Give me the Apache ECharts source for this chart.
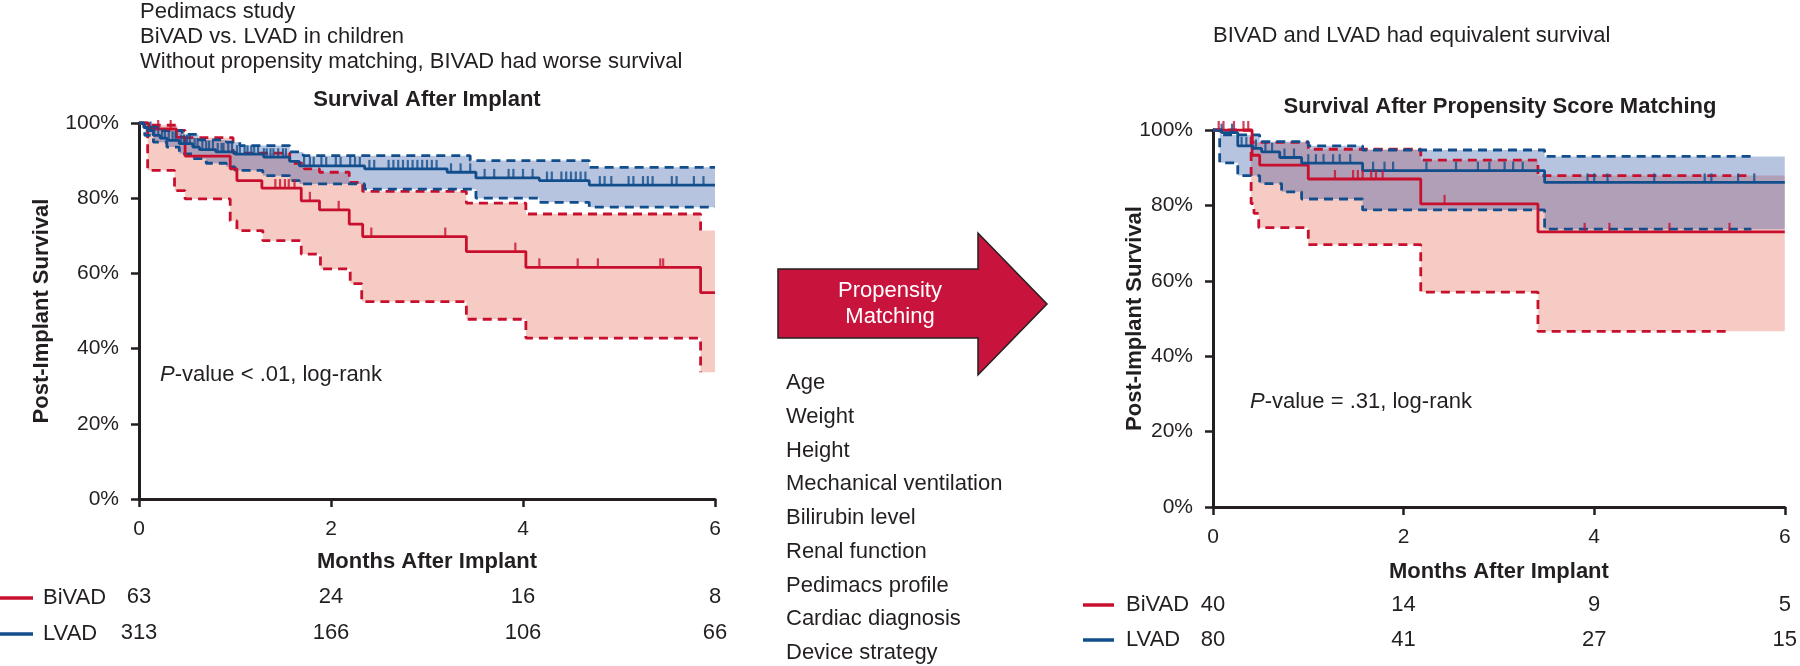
<!DOCTYPE html>
<html>
<head>
<meta charset="utf-8">
<script src="https://cdn.jsdelivr.net/npm/echarts@6/dist/echarts.min.js"></script>
<style>
html,body{margin:0;padding:0;background:#fff;}
#chart{width:1800px;height:666px;}
</style>
</head>
<body>
<div id="chart"></div>
<script>
// ---------- DATA ----------
var xTicks = [0, 2, 4, 6];
// Left panel: all patients (months, % survival)
var bivadKM = [[0,100],[0.1,98.4],[0.39,96.2],[0.48,91.2],[0.95,87.8],[1.02,84.7],[1.28,82.7],[1.69,79.3],[1.88,76.9],[2.19,73.1],[2.33,69.8],[3.41,65.8],[4.03,61.6],[5.85,54.9],[6,54.9]];
var bivadUpper = [[0,100],[0.1,99.4],[0.4,98.0],[0.48,96.1],[0.98,92.0],[1.57,89.3],[1.72,87.8],[1.88,86.9],[2.19,84.2],[2.33,81.8],[3.41,78.7],[4.03,75.8],[5.85,71.4]];
var bivadLower = [[0,100],[0.09,87.4],[0.37,82.0],[0.48,79.8],[0.95,74.0],[1.02,71.4],[1.29,68.7],[1.69,65.1],[1.89,61.2],[2.2,57.3],[2.32,52.5],[3.41,47.8],[4.03,42.8],[5.85,33.7]];
var lvadKM = [[0,100],[0.05,98.8],[0.09,98.0],[0.15,96.7],[0.22,96.0],[0.29,95.4],[0.42,94.5],[0.56,93.6],[0.63,92.9],[0.8,92.3],[1.0,91.7],[1.3,90.9],[1.57,89.8],[1.67,88.6],[2.35,87.8],[3.21,86.9],[3.51,85.4],[4.17,84.7],[4.69,83.5],[6,83.5]];
var lvadUpper = [[0,100],[0.09,98.9],[0.2,98.0],[0.45,97.0],[0.62,95.5],[0.91,94.9],[1.05,94.0],[1.57,92.3],[1.71,91.3],[3.45,90.0],[4.69,88.2],[6,88.2]];
var lvadLower = [[0,100],[0.06,96.7],[0.15,94.9],[0.29,93.6],[0.42,91.8],[0.56,90.5],[0.7,89.3],[0.91,88.3],[1.0,87.4],[1.29,86.0],[1.57,84.7],[1.67,83.8],[2.35,82.4],[3.51,80.0],[4.17,78.9],[4.69,77.6],[6,77.6]];
var bivadCens = [0.2,0.33,1.42,1.47,1.52,1.56,1.62,1.78,2.08,2.42,3.19,3.92,4.17,4.57,4.78,5.43,5.46];
var lvadCens = [0.12,0.16,0.2,0.24,0.27,0.31,0.35,0.38,0.44,0.47,0.5,0.53,0.58,0.61,0.66,0.7,0.73,0.77,0.82,0.86,0.88,0.93,0.97,1.02,1.05,1.1,1.13,1.17,1.2,1.24,1.3,1.33,1.37,1.4,1.45,1.5,1.53,1.72,1.78,1.82,1.9,1.95,2.05,2.1,2.2,2.25,2.3,2.4,2.45,2.6,2.65,2.7,2.75,2.8,2.85,2.9,2.95,3.0,3.05,3.1,3.25,3.35,3.45,3.6,3.7,3.85,3.9,4.0,4.1,4.25,4.3,4.4,4.45,4.5,4.55,4.6,4.65,4.8,4.85,4.92,5.1,5.15,5.25,5.3,5.35,5.55,5.6,5.78,5.88];
var bivadRisk = [63, 24, 16, 8];
var lvadRisk = [313, 166, 106, 66];

// Right panel: propensity matched
var bivadKM2 = [[0,100],[0.41,93.3],[0.49,90.7],[1.0,87.0],[2.18,80.4],[3.41,73.0],[6,73.0]];
var bivadUpper2 = [[0,100],[0.41,96.7],[1.0,94.9],[2.18,92.0],[3.41,87.9],[5.65,87.9]];
var bivadLower2 = [[0,100],[0.4,80.5],[0.43,77.9],[0.48,74.1],[1.0,69.6],[2.18,57.0],[3.41,46.6],[5.44,46.6]];
var lvadKM2 = [[0,100],[0.09,99.3],[0.26,95.8],[0.42,95.1],[0.51,94.2],[0.7,92.7],[0.93,91.2],[1.57,89.2],[3.48,86.1],[6,86.1]];
var lvadUpper2 = [[0,100],[0.09,98.7],[0.49,96.9],[1.0,95.8],[1.57,94.7],[3.48,93.0],[5.65,93.0]];
var lvadLower2 = [[0,100],[0.07,91.3],[0.26,87.9],[0.49,85.8],[0.72,83.6],[0.93,81.7],[1.57,78.8],[3.48,73.7],[5.65,73.7]];
var bivadCens2 = [0.06,0.11,0.22,0.32,0.37,1.28,1.47,1.52,1.57,1.66,1.71,1.78,2.43,3.9,4.16,4.79,5.42];
var lvadCens2 = [0.09,0.2,0.3,0.35,0.45,0.55,0.62,0.75,0.85,1.0,1.08,1.16,1.26,1.33,1.44,1.68,1.8,1.89,2.24,2.55,2.78,2.9,3.06,3.15,3.25,3.93,4.0,4.14,4.63,5.16,5.23,5.51,5.68];
var bivadRisk2 = [40, 14, 9, 5];
var lvadRisk2 = [80, 41, 27, 15];

var matchVars = ['Age','Weight','Height','Mechanical ventilation','Bilirubin level','Renal function','Pedimacs profile','Cardiac diagnosis','Device strategy'];

// ---------- STYLE ----------
var RED = '#C8102E', BLUE = '#124E8C', INK = '#231F20';
var PINK_FILL = 'rgba(226,106,86,0.35)', BLUE_FILL = 'rgba(15,58,152,0.30)';
var FONT = 'Liberation Sans, Arial, sans-serif';

function stepAt(arr, t) {
  var v = arr[0][1];
  for (var i = 0; i < arr.length; i++) { if (arr[i][0] <= t) v = arr[i][1]; else break; }
  return v;
}
function band(upper, lower, xMax, fill, gi) {
  return {
    type: 'custom', xAxisIndex: gi, yAxisIndex: gi, silent: true, clip: false, z: 1,
    data: [[0, 100]],
    renderItem: function (params, api) {
      var pts = [], i, nt;
      for (i = 0; i < upper.length; i++) {
        nt = i + 1 < upper.length ? upper[i + 1][0] : xMax;
        pts.push(api.coord([upper[i][0], upper[i][1]]));
        pts.push(api.coord([nt, upper[i][1]]));
      }
      for (i = lower.length - 1; i >= 0; i--) {
        nt = i + 1 < lower.length ? lower[i + 1][0] : xMax;
        pts.push(api.coord([nt, lower[i][1]]));
        pts.push(api.coord([lower[i][0], lower[i][1]]));
      }
      return { type: 'polygon', shape: { points: pts }, style: { fill: fill } };
    }
  };
}
function line(data, color, dashed, gi) {
  return {
    type: 'line', xAxisIndex: gi, yAxisIndex: gi, data: data, step: 'end', symbol: 'none',
    silent: true, z: dashed ? 3 : 4,
    lineStyle: { color: color, width: 2.8, type: dashed ? [9, 6] : 'solid' }
  };
}
function cens(times, km, color, gi) {
  return {
    type: 'scatter', xAxisIndex: gi, yAxisIndex: gi, silent: true, z: 5,
    data: times.map(function (t) { return [t, stepAt(km, t)]; }),
    symbol: 'rect', symbolSize: [2.2, 9], symbolOffset: [0, -4.5],
    itemStyle: { color: color }
  };
}
function mainX(gi, nameGap) {
  return {
    type: 'value', gridIndex: gi, min: 0, max: 6, interval: 2,
    name: 'Months After Implant', nameLocation: 'middle', nameGap: nameGap, nameMoveOverlap: false,
    nameTextStyle: { fontFamily: FONT, fontSize: 22, fontWeight: 'bold', color: INK },
    axisLine: { lineStyle: { color: INK, width: 3 } },
    axisTick: { length: 8, lineStyle: { color: INK, width: 2.5 } },
    axisLabel: { fontFamily: FONT, fontSize: 21, color: INK, margin: 20, showMinLabel: true, showMaxLabel: true,
      formatter: function (v) { return xTicks.indexOf(v) >= 0 ? String(v) : ''; } },
    splitLine: { show: false }
  };
}
function riskX(gi, offset, arr) {
  return {
    type: 'value', gridIndex: gi, min: 0, max: 6, interval: 2, position: 'bottom', offset: offset,
    axisLine: { show: false }, axisTick: { show: false }, splitLine: { show: false },
    axisLabel: { fontFamily: FONT, fontSize: 22, color: INK, margin: 20, showMinLabel: true, showMaxLabel: true,
      formatter: function (v) { return String(arr[Math.round(v / 2)]); } }
  };
}
function mainY(gi, nameGap) {
  return {
    type: 'value', gridIndex: gi, min: 0, max: 100, interval: 20,
    name: 'Post-Implant Survival', nameLocation: 'middle', nameGap: nameGap, nameMoveOverlap: false,
    nameTextStyle: { fontFamily: FONT, fontSize: 22, fontWeight: 'bold', color: INK },
    axisLine: { show: true, lineStyle: { color: INK, width: 3 } },
    axisTick: { show: true, length: 8, lineStyle: { color: INK, width: 2.5 } },
    axisLabel: { fontFamily: FONT, fontSize: 21, color: INK, margin: 20, formatter: '{value}%' },
    splitLine: { show: false }
  };
}
function txt(x, y, text, opt) {
  opt = opt || {};
  return {
    type: 'text', x: x, y: y, silent: true, z: 10,
    style: {
      text: text, fill: opt.fill || INK, fontFamily: FONT, fontSize: opt.size || 22,
      fontWeight: opt.bold ? 'bold' : 'normal', align: opt.align || 'left', verticalAlign: 'middle',
      rich: opt.rich
    }
  };
}

var graphics = [];
// headers
graphics.push(txt(140, 12, 'Pedimacs study'));
graphics.push(txt(140, 37, 'BiVAD vs. LVAD in children'));
graphics.push(txt(140, 62, 'Without propensity matching, BIVAD had worse survival'));
graphics.push(txt(1213, 36, 'BIVAD and LVAD had equivalent survival'));
// panel titles
graphics.push(txt(427, 100, 'Survival After Implant', { bold: true, align: 'center' }));
graphics.push(txt(1500, 107, 'Survival After Propensity Score Matching', { bold: true, align: 'center' }));
// p-values
var ital = { i: { fontStyle: 'italic', fontFamily: FONT, fontSize: 22, fill: INK } };
graphics.push(txt(160, 375, '{i|P}-value < .01, log-rank', { rich: ital }));
graphics.push(txt(1250, 402, '{i|P}-value = .31, log-rank', { rich: ital }));
// risk table row labels
function rowLabel(x0, x1, tx, y, color, label) {
  graphics.push({ type: 'line', silent: true, shape: { x1: x0, y1: y, x2: x1, y2: y }, style: { stroke: color, lineWidth: 3.5 } });
  graphics.push(txt(tx, y, label));
}
rowLabel(0, 33, 43, 598, RED, 'BiVAD');
rowLabel(0, 33, 43, 634, BLUE, 'LVAD');
rowLabel(1083, 1114, 1126, 605, RED, 'BiVAD');
rowLabel(1083, 1114, 1126, 640, BLUE, 'LVAD');
// arrow
graphics.push({
  type: 'polygon', silent: true,
  shape: { points: [[778, 269], [978, 269], [978, 233], [1047, 304], [978, 375], [978, 338], [778, 338]] },
  style: { fill: '#C8143C', stroke: '#231F20', lineWidth: 1.5 }
});
graphics.push(txt(890, 291, 'Propensity', { fill: '#ffffff', align: 'center' }));
graphics.push(txt(890, 317, 'Matching', { fill: '#ffffff', align: 'center' }));
// matched variables list
matchVars.forEach(function (s, i) { graphics.push(txt(786, 383 + i * 33.75, s)); });

var chart = echarts.init(document.getElementById('chart'), null, { renderer: 'canvas' });
chart.setOption({
  backgroundColor: '#ffffff',
  animation: false,
  grid: [
    { left: 139, top: 123, width: 576, height: 376 },
    { left: 1213, top: 130, width: 574, height: 377 }
  ],
  xAxis: [
    mainX(0, 52), mainX(1, 54),
    riskX(0, 67, bivadRisk), riskX(0, 103, lvadRisk),
    riskX(1, 67, bivadRisk2), riskX(1, 102, lvadRisk2)
  ],
  yAxis: [mainY(0, 86), mainY(1, 67)],
  graphic: graphics,
  series: [
    band(bivadUpper, bivadLower, 6, PINK_FILL, 0),
    band(lvadUpper, lvadLower, 6, BLUE_FILL, 0),
    line(bivadUpper, RED, true, 0), line(bivadLower, RED, true, 0),
    line(lvadUpper, BLUE, true, 0), line(lvadLower, BLUE, true, 0),
    line(bivadKM, RED, false, 0), line(lvadKM, BLUE, false, 0),
    cens(bivadCens, bivadKM, RED, 0), cens(lvadCens, lvadKM, BLUE, 0),

    band(bivadUpper2, bivadLower2, 6, PINK_FILL, 1),
    band(lvadUpper2, lvadLower2, 6, BLUE_FILL, 1),
    line(bivadUpper2, RED, true, 1), line(bivadLower2, RED, true, 1),
    line(lvadUpper2, BLUE, true, 1), line(lvadLower2, BLUE, true, 1),
    line(bivadKM2, RED, false, 1), line(lvadKM2, BLUE, false, 1),
    cens(bivadCens2, bivadKM2, RED, 1), cens(lvadCens2, lvadKM2, BLUE, 1)
  ]
});
</script>
</body>
</html>
